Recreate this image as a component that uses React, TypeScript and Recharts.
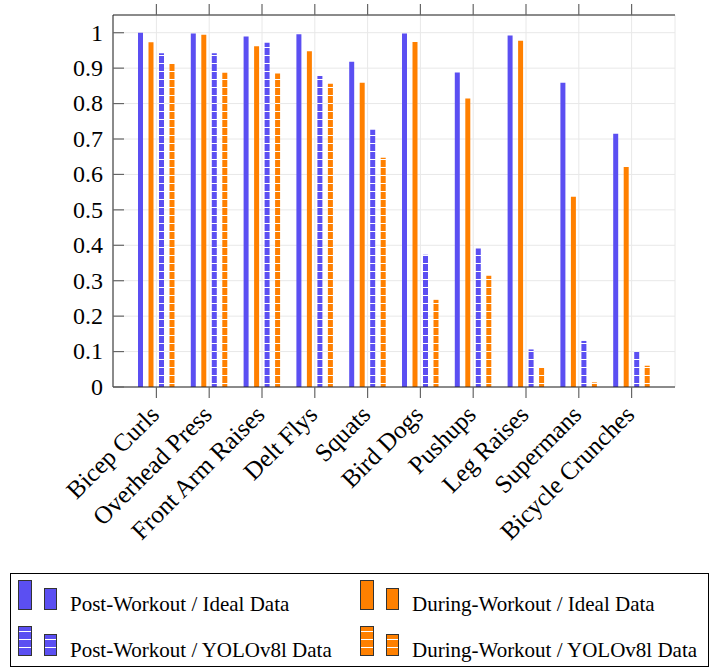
import React from 'react';
import { BarChart, Bar, XAxis, YAxis, CartesianGrid } from 'recharts';

const categories = [
  'Bicep Curls',
  'Overhead Press',
  'Front Arm Raises',
  'Delt Flys',
  'Squats',
  'Bird Dogs',
  'Pushups',
  'Leg Raises',
  'Supermans',
  'Bicycle Crunches',
];
const postIdeal = [1.0, 0.998, 0.989, 0.996, 0.918, 0.998, 0.888, 0.992, 0.859, 0.715];
const duringIdeal = [0.973, 0.994, 0.962, 0.948, 0.859, 0.974, 0.814, 0.977, 0.537, 0.621];
const postYolo = [0.942, 0.942, 0.972, 0.878, 0.726, 0.373, 0.391, 0.106, 0.13, 0.1];
const duringYolo = [0.912, 0.887, 0.885, 0.856, 0.647, 0.246, 0.314, 0.055, 0.013, 0.06];
const yTicks = [0, 0.1, 0.2, 0.3, 0.4, 0.5, 0.6, 0.7, 0.8, 0.9, 1];

const BLUE = '#5b4ff2';
const ORANGE = '#ff8000';
const SERIF = "'Liberation Serif', 'DejaVu Serif', serif";
const TICK_COLOR = '#666';
const FRAME = '#222';
const PLOT_TOP = 15;

const data = categories.map((name, i) => ({
  name,
  postIdeal: postIdeal[i],
  duringIdeal: duringIdeal[i],
  postYolo: postYolo[i],
  duringYolo: duringYolo[i],
}));

const legendItems = [
  { label: 'Post-Workout / Ideal Data', fill: BLUE, hatch: false },
  { label: 'During-Workout / Ideal Data', fill: ORANGE, hatch: false },
  { label: 'Post-Workout / YOLOv8l Data', fill: BLUE, hatch: true },
  { label: 'During-Workout / YOLOv8l Data', fill: ORANGE, hatch: true },
];

// bottom tick label, plus the matching outward tick on the top frame
function XTick(props: any) {
  const { x, y, payload } = props;
  const ax = x - 2;
  const ay = y + 10;
  return (
    <g>
      <line x1={x} x2={x} y1={PLOT_TOP - 11} y2={PLOT_TOP} stroke={TICK_COLOR} strokeWidth={1.2} />
      <text
        x={ax}
        y={ay}
        dy="0.35em"
        textAnchor="end"
        transform={`rotate(-45 ${ax} ${ay})`}
        style={{ fontFamily: SERIF, fontSize: 25 }}
        fill="#000"
      >
        {payload.value}
      </text>
    </g>
  );
}

function YTickLeft(props: any) {
  const { x, y, payload } = props;
  return (
    <g>
      <line x1={x + 10} x2={x + 21} y1={y} y2={y} stroke={TICK_COLOR} strokeWidth={1.2} />
      <text x={x} y={y} dy="0.33em" textAnchor="end" style={{ fontFamily: SERIF, fontSize: 24 }} fill="#000">
        {payload.value}
      </text>
    </g>
  );
}

function YTickRight(props: any) {
  const { x, y } = props;
  return <line x1={x - 11} x2={x} y1={y} y2={y} stroke={TICK_COLOR} strokeWidth={1.2} />;
}

function LegendIcon({ fill, hatch, x, y, w, h }: any) {
  const lines = [];
  if (hatch) {
    for (let yy = 8; yy < h; yy += 8) lines.push(yy);
  }
  return (
    <g>
      <rect x={x} y={y} width={w} height={h} fill={fill} stroke="#333" strokeWidth={1} />
      {lines.map((yy) => (
        <line key={yy} x1={x + 0.5} x2={x + w - 0.5} y1={y + h - yy} y2={y + h - yy} stroke="#fff" strokeWidth={1} />
      ))}
    </g>
  );
}

function ChartLegend() {
  const cols = [0, 342];
  const rows = [0, 46];
  return (
    <div
      style={{
        position: 'absolute',
        left: 10,
        top: 573,
        width: 697,
        height: 92,
        border: '1px solid #000',
      }}
    >
      <svg width={697} height={92} style={{ position: 'absolute', left: 0, top: 0 }}>
        {legendItems.map((item, i) => {
          const cx = cols[i % 2];
          const ry = rows[Math.floor(i / 2)];
          return (
            <g key={item.label}>
              <LegendIcon fill={item.fill} hatch={item.hatch} x={cx + 7.5} y={ry + 6.5} w={13} h={29} />
              <LegendIcon fill={item.fill} hatch={item.hatch} x={cx + 33.5} y={ry + 14.5} w={12} h={21} />
              <text x={cx + 59} y={ry + 37} style={{ fontFamily: SERIF, fontSize: 21 }} fill="#000">
                {item.label}
              </text>
            </g>
          );
        })}
      </svg>
    </div>
  );
}

export default function App() {
  return (
    <div style={{ position: 'relative', width: 712, height: 669 }}>
      <style>{'body{margin:0}'}</style>
      <BarChart
        width={712}
        height={669}
        data={data}
        margin={{ top: 14, right: 37, bottom: 112, left: 63 }}
        barSize={5}
        barGap={5.5}
      >
        <defs>
          <pattern id="hatchBlue" patternUnits="userSpaceOnUse" width={8} height={8}>
            <rect width={8} height={8} fill={BLUE} />
            <rect y={7} width={8} height={1.2} fill="#fff" />
          </pattern>
          <pattern id="hatchOrange" patternUnits="userSpaceOnUse" width={8} height={8}>
            <rect width={8} height={8} fill={ORANGE} />
            <rect y={7} width={8} height={1.2} fill="#fff" />
          </pattern>
        </defs>
        <CartesianGrid stroke="#e8e8e8" />
        <XAxis
          dataKey="name"
          interval={0}
          height={170}
          padding={{ left: 17, right: 17 }}
          tickSize={11}
          tickLine={{ stroke: TICK_COLOR, strokeWidth: 1.2 }}
          axisLine={{ stroke: FRAME }}
          tick={(p: any) => <XTick {...p} />}
        />
        <XAxis
          xAxisId="top"
          orientation="top"
          dataKey="name"
          interval={0}
          height={1}
          padding={{ left: 17, right: 17 }}
          tickLine={false}
          axisLine={{ stroke: FRAME }}
          tick={false}
        />
        <YAxis
          domain={[0, 1.05]}
          ticks={yTicks}
          width={50}
          tickSize={0}
          tickMargin={10}
          axisLine={{ stroke: FRAME }}
          tick={(p: any) => <YTickLeft {...p} />}
          interval={0}
        />
        <YAxis
          yAxisId="right"
          orientation="right"
          domain={[0, 1.05]}
          ticks={yTicks}
          width={0}
          tickSize={0}
          tickMargin={0}
          axisLine={{ stroke: FRAME }}
          tick={(p: any) => <YTickRight {...p} />}
          interval={0}
        />
        <Bar dataKey="postIdeal" fill={BLUE} isAnimationActive={false} />
        <Bar dataKey="duringIdeal" fill={ORANGE} isAnimationActive={false} />
        <Bar dataKey="postYolo" fill="url(#hatchBlue)" isAnimationActive={false} />
        <Bar dataKey="duringYolo" fill="url(#hatchOrange)" isAnimationActive={false} />
      </BarChart>
      <ChartLegend />
    </div>
  );
}
